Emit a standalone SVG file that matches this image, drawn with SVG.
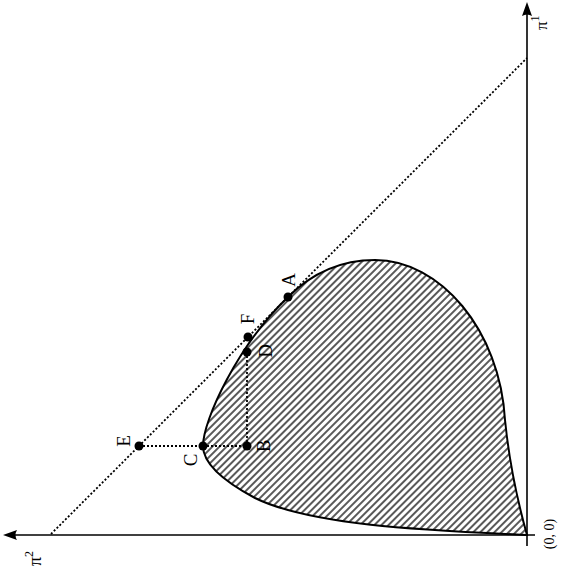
<svg xmlns="http://www.w3.org/2000/svg" width="562" height="575" viewBox="0 0 562 575">
<style>
.axis{stroke:#000;stroke-width:1.6;fill:none}
.dot{stroke:#000;stroke-width:1.8;stroke-dasharray:2 2;fill:none}
.pt{fill:#000}
.lbl{font-family:"Liberation Serif","DejaVu Serif",serif;font-size:19px;fill:#000;text-anchor:middle}
.ax{font-family:"Liberation Serif","DejaVu Serif",serif;fill:#000}
</style>
<defs>
<pattern id="hatch" width="5" height="5" patternUnits="userSpaceOnUse" patternTransform="rotate(45)">
<line x1="1" y1="-1" x2="1" y2="6" stroke="#000" stroke-width="1.3"/>
</pattern>
</defs>
<rect width="562" height="575" fill="#fff"/>
<g id="region">
<path d="M527,535 C420,530 310,525 255,498 C225,482 203,465 203,446 C203,420 238,345 288,297 C315,270 345,260 375,260 C440,260 500,330 505,420 C510,470 520,510 527,535 Z" fill="url(#hatch)" stroke="#000" stroke-width="2"/>
</g>
<g id="axes">
<line class="axis" x1="535" y1="535" x2="12" y2="535"/>
<path d="M3,535 L17,530 Q14,535 17,540 Z" fill="#000"/>
<line class="axis" x1="527" y1="546" x2="527" y2="12"/>
<path d="M527,2 L522,16 Q527,13 532,16 Z" fill="#000"/>
</g>
<g id="connectors">
<line class="dot" x1="51" y1="534" x2="527" y2="58"/>
<line class="dot" x1="139" y1="446" x2="247" y2="446"/>
<line class="dot" x1="247" y1="446" x2="247" y2="352"/>
</g>
<g id="A"><circle class="pt" cx="288" cy="297" r="4.5"/><text class="lbl" transform="translate(295,280) rotate(-90)">A</text></g>
<g id="F"><circle class="pt" cx="248" cy="337" r="4.5"/><text class="lbl" transform="translate(254,319) rotate(-90)">F</text></g>
<g id="D"><circle class="pt" cx="247" cy="352" r="4.5"/><text class="lbl" transform="translate(272,351) rotate(-90)">D</text></g>
<g id="E"><circle class="pt" cx="139" cy="446" r="4.5"/><text class="lbl" transform="translate(130,441) rotate(-90)">E</text></g>
<g id="C"><circle class="pt" cx="203" cy="446" r="4.5"/><text class="lbl" transform="translate(197,460) rotate(-90)">C</text></g>
<g id="B"><circle class="pt" cx="247" cy="446" r="4.5"/><text class="lbl" transform="translate(270,446) rotate(-90)">B</text></g>
<g id="labels">
<text class="ax" font-size="17" transform="translate(547,30) rotate(-90)">π<tspan font-size="12" dy="-8">1</tspan></text>
<text class="ax" font-size="18" transform="translate(41,566) rotate(-90)">π<tspan font-size="12" dy="-8">2</tspan></text>
<text class="ax" font-size="14" text-anchor="middle" transform="translate(554,534) rotate(-90)">(0, 0)</text>
</g>
</svg>
